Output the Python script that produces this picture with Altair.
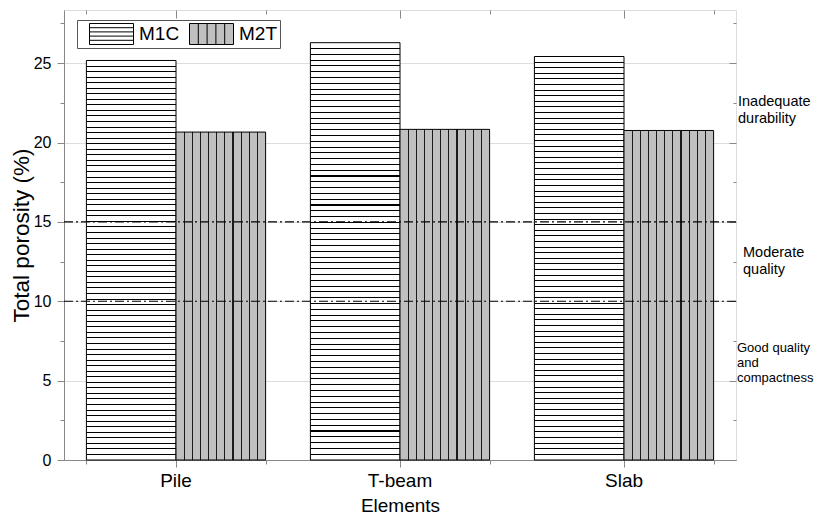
import altair as alt
import pandas as pd

# ---------------- data ----------------
elements = ["Pile", "T-beam", "Slab"]
series = ["M1C", "M2T"]
m1c = [25.17, 26.29, 25.42]
m2t = [20.66, 20.83, 20.76]
major_ticks = [0, 5, 10, 15, 20, 25]
minor_ticks = [2.5, 7.5, 12.5, 17.5, 22.5, 27.5]
limits = [15, 10]
zone_texts = ["Inadequate\ndurability", "Moderate\nquality", "Good quality\nand\ncompactness"]
zone_y = [22.55, 13.07, 7.06]

rows = []
for e, a, b in zip(elements, m1c, m2t):
    rows.append({"element": e, "series": "M1C", "value": a})
    rows.append({"element": e, "series": "M2T", "value": b})
df = pd.DataFrame(rows)

# ---------------- styles ----------------
W, H = 672, 450
YMAX = 28.35
FONT = "Liberation Sans"


def stripes(n, w, bg, fg):
    stops = [{"offset": 0, "color": bg}]
    for k in range(1, n):
        c = k / n
        a, b = c - w / 2, c + w / 2
        stops += [
            {"offset": a, "color": bg},
            {"offset": a, "color": fg},
            {"offset": b, "color": fg},
            {"offset": b, "color": bg},
        ]
    stops.append({"offset": 1, "color": bg})
    return stops


grad_h = {"gradient": "linear", "x1": 0, "y1": 0, "x2": 0, "y2": 1,
          "stops": stripes(72, 1.0 / 400, "#ffffff", "#000000")}
grad_v = {"gradient": "linear", "x1": 0, "y1": 0, "x2": 1, "y2": 0,
          "stops": stripes(11, 1.2 / 89.6, "#c0c0c0", "#1a1a1a")}

path_h = ("M-2,-0.955H2V0.955H-2Z M-2,-0.573H2 M-2,-0.191H2 "
          "M-2,0.191H2 M-2,0.573H2")
path_v = ("M-2,-0.955H2V0.955H-2Z M-1.2,-0.955V0.955 M-0.4,-0.955V0.955 "
          "M0.4,-0.955V0.955 M1.2,-0.955V0.955")

xscale = alt.Scale(domain=elements, paddingInner=0.2, paddingOuter=0.1)
oscale = alt.Scale(domain=series, paddingInner=0, paddingOuter=0)
yscale = alt.Scale(domain=[0, YMAX], nice=False, zero=True)


def enc(x_axis, y_axis):
    return dict(
        x=alt.X("element:N", sort=elements, scale=xscale, axis=x_axis),
        xOffset=alt.XOffset("series:N", sort=series, scale=oscale),
        y=alt.Y("value:Q", scale=yscale, axis=y_axis),
    )


bottom_major = alt.Axis(orient="bottom", bandPosition=0.5, tickSize=7, labelFontSize=19,
                        labelPadding=4, labelAngle=0, title="Elements", titleFontSize=19,
                        titleFontWeight="normal", titlePadding=6)
bottom_minor = alt.Axis(orient="bottom", tickBand="extent", tickSize=4, labels=False,
                        domain=False, title=None)
top_major = alt.Axis(orient="top", offset=-8, bandPosition=0.5, tickSize=8, labels=False,
                     domain=False, title=None)
top_minor = alt.Axis(orient="top", offset=-4, tickBand="extent", tickSize=4, labels=False,
                     domain=False, title=None)
left_major = alt.Axis(orient="left", values=major_ticks, tickSize=7, labelFontSize=16,
                      labelPadding=6, title="Total porosity (%)", titleFontSize=22.5,
                      titleFontWeight="normal", titlePadding=0)
left_minor = alt.Axis(orient="left", values=minor_ticks, tickSize=4, labels=False,
                      domain=False, title=None)
right_major = alt.Axis(orient="right", offset=-7, values=major_ticks, tickSize=7,
                       labels=False, domain=False, title=None)
right_minor = alt.Axis(orient="right", offset=-3, values=minor_ticks, tickSize=3,
                       labels=False, domain=False, title=None)

legend = alt.Legend(orient="none", legendX=13, legendY=10, direction="horizontal", title=None,
                    symbolSize=484, symbolStrokeWidth=1, symbolOpacity=1, symbolOffset=20,
                    labelOffset=16, columnPadding=-4, padding=3, clipHeight=22,
                    labelFontSize=19, labelFont=FONT, labelColor="black",
                    strokeColor="#555555", fillColor="white")

base = alt.Chart(df)

bars_m1c = base.transform_filter(alt.datum.series == "M1C").mark_bar(
    fill=grad_h, stroke="black", strokeWidth=1
).encode(**enc(bottom_major, left_major))

bars_m2t = base.transform_filter(alt.datum.series == "M2T").mark_bar(
    fill=grad_v, stroke="black", strokeWidth=1
).encode(**enc(bottom_minor, left_minor))

legend_pts = base.mark_point(filled=True, opacity=0).encode(
    **enc(top_major, right_major),
    fill=alt.Fill("series:N", scale=alt.Scale(domain=series, range=["#ffffff", "#c0c0c0"]),
                  legend=legend),
    stroke=alt.Stroke("series:N", scale=alt.Scale(domain=series, range=["#000000", "#000000"]),
                      legend=legend),
    shape=alt.Shape("series:N", scale=alt.Scale(domain=series, range=[path_h, path_v]),
                    legend=legend),
)

axis_pts = base.mark_point(opacity=0).encode(**enc(top_minor, right_minor))

rules = alt.Chart(pd.DataFrame({"limit": limits})).mark_rule(
    color="black", strokeWidth=1.2, strokeDash=[9, 3, 2, 3]
).encode(y=alt.Y("limit:Q", scale=yscale, axis=None))

zone_styles = [(674, 14.5, 17), (679, 14.5, 17), (673, 13, 15)]
texts = []
for t, yv, (xp, fs, lh) in zip(zone_texts, zone_y, zone_styles):
    texts.append(
        alt.Chart(pd.DataFrame({"label": [t], "y": [yv]})).mark_text(
            align="left", baseline="middle", lineBreak="\n", font=FONT, fontSize=fs,
            lineHeight=lh, color="black"
        ).encode(x=alt.value(xp), y=alt.Y("y:Q", scale=yscale, axis=None), text="label:N")
    )

chart = alt.layer(bars_m1c, bars_m2t, legend_pts, axis_pts, rules, *texts).resolve_axis(
    x="independent", y="independent"
).properties(
    width=W, height=H,
    padding={"left": 64, "top": 10, "right": 79, "bottom": 58},
    autosize=alt.AutoSizeParams(type="none"),
).configure_view(
    stroke="black", strokeWidth=1.5
).configure_axis(
    grid=False, domainColor="black", domainWidth=1.5, tickColor="black", tickWidth=1.2,
    labelColor="black", titleColor="black", labelFont=FONT, titleFont=FONT,
    titleFontWeight="normal"
).configure(background="white")

chart.save("out.html", embed_options={"renderer": "svg", "actions": False})
